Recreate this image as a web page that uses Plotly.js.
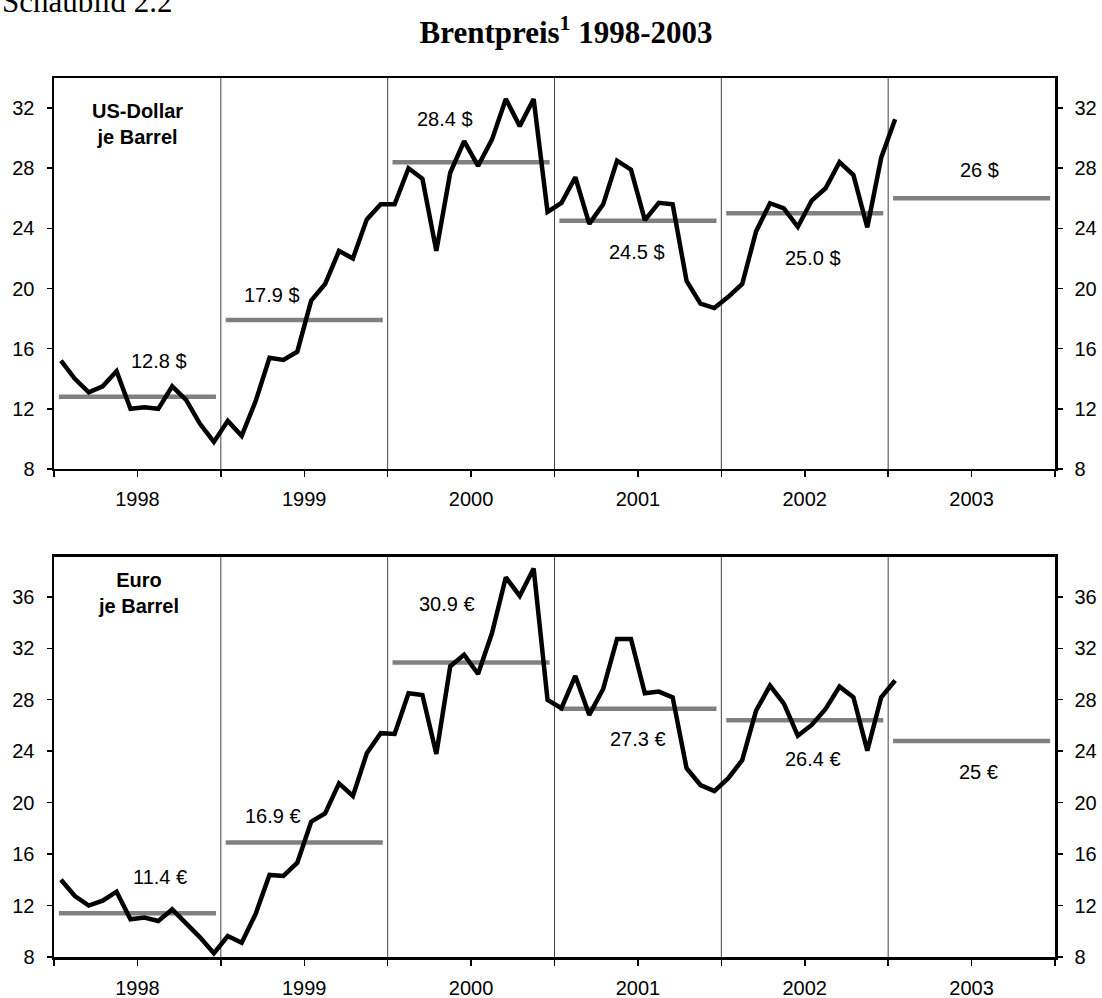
<!DOCTYPE html>
<html><head><meta charset="utf-8">
<script src="https://cdn.plot.ly/plotly-3.0.1.min.js"></script>
<style>html,body{margin:0;padding:0;background:#fff}</style>
</head><body><div id="chart" style="width:1102px;height:998px"></div>
<script>
// Monthly Brent price, Jan 1998 .. Jan 2003
const years = ['1998', '1999', '2000', '2001', '2002', '2003'];
const usd = [
  15.2, 14.0, 13.1, 13.5, 14.5, 12.0, 12.1, 12.0, 13.5, 12.6, 11.0, 9.8,
  11.2, 10.2, 12.5, 15.4, 15.25, 15.8, 19.2, 20.3, 22.5, 22.0, 24.6, 25.6,
  25.6, 28.0, 27.3, 22.5, 27.7, 29.8, 28.15, 29.9, 32.6, 30.8, 32.6, 25.1,
  25.7, 27.4, 24.3, 25.6, 28.5, 27.9, 24.55, 25.7, 25.6, 20.5, 19.0, 18.7,
  19.45, 20.3, 23.8, 25.67, 25.33, 24.1, 25.85, 26.67, 28.4, 27.55, 24.07, 28.7,
  31.25
];
const eur = [
  14.0, 12.74, 12.0, 12.38, 13.08, 10.93, 11.06, 10.8, 11.7, 10.6, 9.53, 8.29,
  9.63, 9.11, 11.34, 14.38, 14.3, 15.33, 18.52, 19.17, 21.5, 20.52, 23.84, 25.4,
  25.34, 28.5, 28.37, 23.79, 30.6, 31.5, 30.0, 33.17, 37.52, 36.07, 38.2, 27.98,
  27.34, 29.85, 26.82, 28.84, 32.73, 32.73, 28.5, 28.63, 28.19, 22.67, 21.37, 20.9,
  21.9, 23.3, 27.15, 29.1, 27.7, 25.2, 26.04, 27.28, 29.02, 28.19, 24.04, 28.19,
  29.5
];
const usdAvg = [12.8, 17.9, 28.4, 24.5, 25.0, 26.0];
const eurAvg = [11.4, 16.9, 30.9, 27.3, 26.4, 24.8];
const usdLabels = ['12.8 $', '17.9 $', '28.4 $', '24.5 $', '25.0 $', '26 $'];
const eurLabels = ['11.4 €', '16.9 €', '30.9 €', '27.3 €', '26.4 €', '25 €'];
const usdTicks = [8, 12, 16, 20, 24, 28, 32];
const eurTicks = [8, 12, 16, 20, 24, 28, 32, 36];

// label placement (x in months, y in axis units)
const usdLabelPos = [[7.55, 15.2], [15.7, 19.6], [28.1, 31.3], [41.9, 22.4], [54.6, 22.0], [66.6, 27.9]];
const eurLabelPos = [[7.6, 14.2], [15.75, 19.0], [28.3, 35.45], [42.0, 24.95], [54.6, 23.4], [66.5, 22.4]];

const M = 12;
function avgTrace(vals, xa, ya) {
  const x = [], y = [];
  vals.forEach((v, k) => { x.push(k * M + 0.35, k * M + 11.65, null); y.push(v, v, null); });
  return {x, y, xaxis: xa, yaxis: ya, type: 'scatter', mode: 'lines', line: {color: '#808080', width: 4.5}, hoverinfo: 'skip'};
}
function priceTrace(vals, xa, ya) {
  return {x: vals.map((_, i) => i + 0.5), y: vals, xaxis: xa, yaxis: ya, type: 'scatter', mode: 'lines',
    line: {color: '#000', width: 4.5}};
}
const data = [
  avgTrace(usdAvg, 'x', 'y'),
  priceTrace(usd, 'x', 'y3'),
  avgTrace(eurAvg, 'x2', 'y2'),
  priceTrace(eur, 'x2', 'y4')
];

const tickvals = [], ticktext = [];
for (let k = 0; k <= years.length * 2; k++) { tickvals.push(k * 6); ticktext.push(k % 2 ? years[(k - 1) / 2] : ''); }

const sans = 'Liberation Sans, Arial, sans-serif';
const serif = 'Liberation Serif, Times New Roman, serif';
function xAxis(anchor) {
  return {domain: [0, 1], range: [0, 72], anchor, tickvals, ticktext, ticks: 'outside', ticklen: 6, tickwidth: 1.5,
    tickcolor: '#000', showline: true, linewidth: 2.5, linecolor: '#000', mirror: true, showgrid: false, zeroline: false,
    tickfont: {family: sans, size: 20, color: '#000'}, ticklabelstandoff: 5, fixedrange: true};
}
function yAxis(domain, range, tv, extra) {
  return Object.assign({domain, range, tickvals: tv, ticks: 'outside', ticklen: 5, tickwidth: 1.5, tickcolor: '#000',
    showline: true, linewidth: 2.5, linecolor: '#000', showgrid: false, zeroline: false,
    tickfont: {family: sans, size: 20, color: '#000'}, ticklabelstandoff: 8, fixedrange: true}, extra);
}
const topDom = [0.5552, 1], botDom = [0, 0.4551];
const layout = {
  width: 1102, height: 998,
  margin: {l: 54, r: 47, t: 78, b: 41},
  paper_bgcolor: '#fff', plot_bgcolor: '#fff', showlegend: false,
  font: {family: sans, size: 20, color: '#000'},
  title: {text: '<b>Brentpreis<sup>1</sup> 1998-2003</b>', font: {family: serif, size: 31, color: '#000'},
    x: 566 / 1102, xanchor: 'center', xref: 'container', y: 1 - 32 / 998, yanchor: 'middle', yref: 'container'},
  xaxis: xAxis('y'),
  xaxis2: xAxis('y2'),
  yaxis: yAxis(topDom, [8, 34], usdTicks, {anchor: 'x', mirror: true}),
  yaxis2: yAxis(botDom, [8, 39.1], eurTicks, {anchor: 'x2', mirror: true}),
  yaxis3: yAxis(topDom, [8, 34], usdTicks, {anchor: 'x', overlaying: 'y', side: 'right'}),
  yaxis4: yAxis(botDom, [8, 39.1], eurTicks, {anchor: 'x2', overlaying: 'y2', side: 'right'}),
  shapes: [], annotations: []
};
for (let k = 1; k < years.length; k++) {
  ['', '2'].forEach(s => layout.shapes.push({type: 'line', xref: 'x' + s, yref: 'y' + s + ' domain', x0: k * M, x1: k * M, y0: 0, y1: 1,
    line: {color: '#404040', width: 1}, layer: 'below'}));
}
usdLabels.forEach((t, k) => layout.annotations.push({xref: 'x', yref: 'y', x: usdLabelPos[k][0], y: usdLabelPos[k][1], text: t,
  showarrow: false, font: {family: sans, size: 20, color: '#000'}}));
eurLabels.forEach((t, k) => layout.annotations.push({xref: 'x2', yref: 'y2', x: eurLabelPos[k][0], y: eurLabelPos[k][1], text: t,
  showarrow: false, font: {family: sans, size: 20, color: '#000'}}));
layout.annotations.push({xref: 'x', yref: 'y', x: 6, y: 30.95, text: '<b>US-Dollar<br>je Barrel</b>', showarrow: false, align: 'center',
  font: {family: sans, size: 20, color: '#000'}});
layout.annotations.push({xref: 'x2', yref: 'y2', x: 6.1, y: 36.3, text: '<b>Euro<br>je Barrel</b>', showarrow: false, align: 'center',
  font: {family: sans, size: 20, color: '#000'}});
layout.annotations.push({xref: 'paper', yref: 'paper', x: -54 / 1001, xanchor: 'left', y: (957 - 21) / 879, yanchor: 'bottom',
  text: 'Schaubild 2.2', showarrow: false, font: {family: serif, size: 31, color: '#000'}});

Plotly.newPlot('chart', data, layout, {displayModeBar: false, staticPlot: true});
</script></body></html>
